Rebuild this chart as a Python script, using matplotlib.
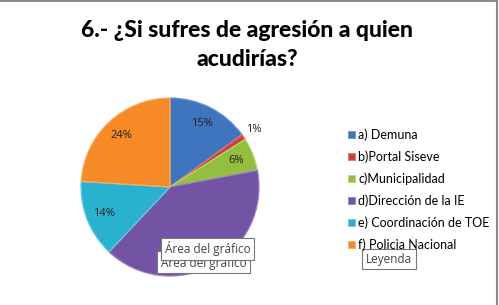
import numpy as np
import matplotlib.pyplot as plt
from matplotlib.patches import Patch

W, H = 499, 305

titulo = "6.- ¿Si sufres de agresión a quien\nacudirías?"
categorias = ["a) Demuna", "b)Portal Siseve", "c)Municipalidad",
              "d)Dirección de la IE", "e) Coordinación de TOE", "f) Policia Nacional"]
porcentajes = [15, 1, 6, 40, 14, 24]
colores = ["#3F74BE", "#C8423E", "#93BE3E", "#7353A3", "#2BB1D0", "#F58A26"]
bordes = ["#6E98D4", "#E07773", "#B4D875", "#9A80C4", "#6BCBE2", "#F9AE67"]

fig = plt.figure(figsize=(W / 100, H / 100), dpi=100)
fig.patch.set_facecolor("white")

# borde del área del gráfico
fig.add_artist(plt.Line2D([0, 497 / W], [1 - 0.5 / H, 1 - 0.5 / H],
                          color="#8a8a8a", lw=1.5, transform=fig.transFigure))
fig.add_artist(plt.Line2D([497 / W, 497 / W], [0, 1],
                          color="#8a8a8a", lw=1.5, transform=fig.transFigure))

fig.text(247 / W, 1 - 45 / H, titulo, ha="center", va="center",
         fontsize=16.5, fontweight="black", family="Lato", linespacing=1.45)

# pie: centro (170,187), radio 89 px
cx, cy, r = 170, 187, 89
ax = fig.add_axes([(cx - r) / W, (H - cy - r) / H, 2 * r / W, 2 * r / H])
cunas, textos, pcts = ax.pie(porcentajes, colors=colores, startangle=90,
                             counterclock=False, autopct="%d%%", pctdistance=0.8,
                             wedgeprops=dict(linewidth=0.9),
                             textprops=dict(fontsize=8, family="Open Sans", color="#222222"))
for w, b in zip(cunas, bordes):
    w.set_edgecolor(b)
# 1% fuera de la torta
ang = np.deg2rad(90 - (15 + 0.5) * 3.6)
pcts[1].set_position((1.14 * np.cos(ang), 1.14 * np.sin(ang)))
# la etiqueta del 40% queda tapada por el cuadro emergente
pcts[3].set_visible(False)
ax.set_xlim(-1, 1)
ax.set_ylim(-1, 1)
ax.axis("off")

manejadores = [Patch(facecolor=c, edgecolor=b, lw=0.6) for c, b in zip(colores, bordes)]
fig.legend(manejadores, categorias, loc="upper left",
           bbox_to_anchor=(337 / W, 1 - 117 / H), frameon=False,
           prop=dict(family="Lato", size=9), handlelength=0.55, handleheight=0.55,
           handletextpad=0.25, labelspacing=0.76)

# cuadros emergentes (tooltips)
caja = dict(boxstyle="square,pad=0.3", facecolor="white", edgecolor="#767676", lw=0.8)
fig.text(161 / W, 1 - 262 / H, "Área del gráfico", ha="left", va="center",
         fontsize=8.5, family="Open Sans", color="#444444", bbox=caja)
fig.text(165 / W, 1 - 249 / H, "Área del gráfico", ha="left", va="center",
         fontsize=8.5, family="Open Sans", color="#444444", bbox=caja)
fig.text(366 / W, 1 - 259 / H, "Leyenda", ha="left", va="center",
         fontsize=8.5, family="Open Sans", color="#444444", bbox=caja)

fig.savefig("out.png", dpi=100, facecolor="white")
